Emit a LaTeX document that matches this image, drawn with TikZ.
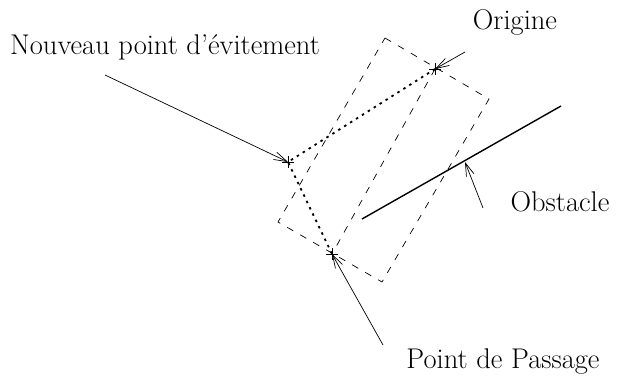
\documentclass[tikz,border=0pt]{standalone}
\usetikzlibrary{arrows.meta,calc}
\begin{document}
\begin{tikzpicture}[x=1pt,y=-1pt,
  lbl/.style={inner sep=0pt,font=\fontsize{28.5}{32}\selectfont},
  ptr/.style={line width=0.7pt,-{Straight Barb[length=13pt,width=8pt]}},
  frame/.style={line width=0.7pt,dash pattern=on 7pt off 8pt},
  route/.style={line width=1.8pt,dash pattern=on 2.5pt off 4.5pt},
  cross/.style={line width=0.7pt}]
\useasboundingbox (0,0) rectangle (618,379);
% key points
\coordinate (orig) at (435,69);
\coordinate (nouv) at (288,162);
\coordinate (pass) at (332,254);
% rectangle corners
\coordinate (ct) at (385,38);
\coordinate (cr) at (489,99);
\coordinate (cb) at (382,282);
\coordinate (cl) at (278,222);
% obstacle ends
\coordinate (oa) at (362,219);
\coordinate (ob) at (561,106);
\coordinate (oh) at (465,162);
% dashed frame
\draw[frame] (ct) -- (cr) -- (cb) -- (cl) -- cycle;
\draw[frame] (orig) -- (pass);
% route
\draw[route] (orig) -- (nouv) -- (pass);
% obstacle
\draw[line width=1.4pt] (oa) -- (ob);
% crosses
\foreach \p in {orig,nouv,pass}{
  \draw[cross] ($(\p)+(-6,0)$) -- ($(\p)+(6,0)$);
  \draw[cross] ($(\p)+(0,-6)$) -- ($(\p)+(0,6)$);
}
% labels
\node[lbl] (lorig) at (515,22) {Origine};
\node[lbl] (lnouv) at (165,47) {Nouveau point d'évitement};
\node[lbl] (lobst) at (560,202) {Obstacle};
\node[lbl] (lpass) at (503,362) {Point de Passage};
% pointers
\coordinate (sorig) at (465,52);
\coordinate (snouv) at (105,75);
\coordinate (sobst) at (483,208);
\coordinate (spass) at (383,345);
\draw[ptr] (sorig) -- (orig);
\draw[ptr] (snouv) -- (nouv);
\draw[ptr] (sobst) -- (oh);
\draw[ptr] (spass) -- (pass);
\end{tikzpicture}
\end{document}
